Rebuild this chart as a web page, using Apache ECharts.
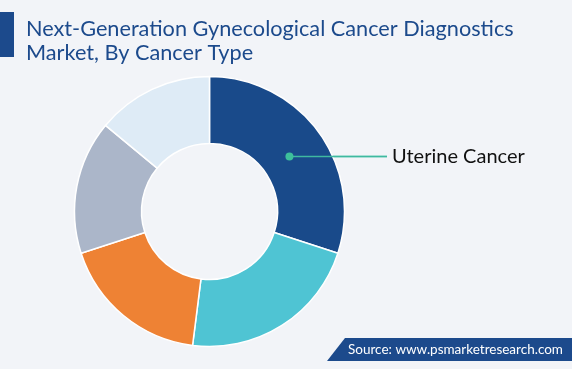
<!DOCTYPE html>
<html><head><meta charset="utf-8">
<script src="https://cdn.jsdelivr.net/npm/echarts@6/dist/echarts.min.js"></script>
<style>html,body{margin:0;padding:0;background:#f2f4f8;}#c{width:572px;height:369px;}</style>
</head><body><div id="c"></div>
<script>
const titleLines = ["Next-Generation Gynecological Cancer Diagnostics", "Market, By Cancer Type"];
const categories = ["Uterine Cancer", "Ovarian Cancer", "Cervical Cancer", "Vulvar Cancer", "Vaginal Cancer"];
const values = [30, 22, 18, 16, 14];
const colors = ["#194a8a", "#4fc4d3", "#ee8234", "#abb6c9", "#deebf6"];
const labeled = ["Uterine Cancer"];
const sourceText = "Source: www.psmarketresearch.com";

const center = [209.5, 211.5];
const radius = [68, 135];
const total = values.reduce((a, b) => a + b, 0);
function midPoint(i) {
  let before = 0;
  for (let k = 0; k < i; k++) before += values[k];
  const ang = (90 - (before + values[i] / 2) / total * 360 - 1.5) * Math.PI / 180;
  const r = 97;
  return [center[0] + r * Math.cos(ang), center[1] - r * Math.sin(ang)];
}
const labelX = 387;

const chart = echarts.init(document.getElementById('c'));
const dots = categories.map((c, i) => labeled.includes(c) ? midPoint(i) : null).filter(Boolean);
chart.setOption({
  backgroundColor: '#f2f4f8',
  animation: false,
  title: {
    text: titleLines.join('\n'),
    left: 21, top: 12,
    textStyle: { color: '#1c4a8c', fontFamily: 'Lato', fontWeight: 'normal', fontSize: 21.7, lineHeight: 24 }
  },
  graphic: [
    { type: 'rect', shape: { x: 0, y: 12, width: 14, height: 45 }, style: { fill: '#1c4a8c' } },
    { type: 'polygon', shape: { points: [[345, 338], [572, 338], [572, 361], [327, 361]] }, style: { fill: '#1c4a8c' } },
    { type: 'text', x: 348, y: 350, style: { text: sourceText, fill: '#ffffff', font: '13.5px Lato', verticalAlign: 'middle' } }
  ].concat(dots.map(p => ({ type: 'line', z: 99, shape: { x1: p[0], y1: p[1], x2: labelX, y2: p[1] }, style: { stroke: '#3fb9a0', lineWidth: 1.5 } })))
   .concat(dots.map(p => ({ type: 'circle', z: 100, shape: { cx: p[0], cy: p[1], r: 4 }, style: { fill: '#3dbf9b' } }))),
  series: [{
    type: 'pie',
    center: center,
    radius: radius,
    startAngle: 90,
    clockwise: true,
    itemStyle: { borderColor: '#ffffff', borderWidth: 1.5 },
    labelLine: { show: true, lineStyle: { color: '#5ccfb2', width: 1.5 } },
    label: { show: true, color: '#111111', fontFamily: 'Lato', fontSize: 20 },
    emphasis: { disabled: true },
    data: categories.map((c, i) => ({
      name: c, value: values[i], itemStyle: { color: colors[i] },
      label: { show: labeled.includes(c) },
      labelLine: { show: labeled.includes(c) }
    })),
    labelLayout: function (params) {
      const i = params.dataIndex;
      if (!labeled.includes(categories[i])) return {};
      const p = midPoint(i);
      return {
        x: labelX + 5, y: p[1], align: 'left', verticalAlign: 'middle',
        labelLinePoints: [[p[0], p[1]], [labelX, p[1]], [labelX, p[1]]]
      };
    }
  }]
});
</script></body></html>
